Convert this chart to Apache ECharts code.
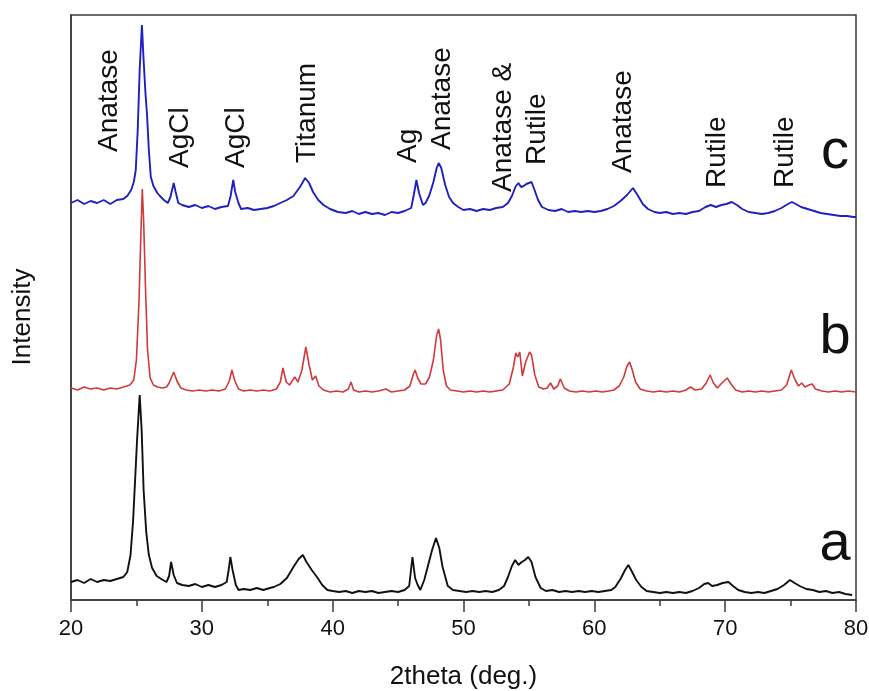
<!DOCTYPE html>
<html>
<head>
<meta charset="utf-8">
<script src="https://cdn.jsdelivr.net/npm/echarts@6/dist/echarts.min.js"></script>
<style>
html,body{margin:0;padding:0;background:#fff;}
#chart{width:869px;height:691px;}
</style>
</head>
<body>
<div id="chart"></div>
<script>
// x: 2theta (deg.), y: intensity (arb. units, stacked patterns)
const sampleC = [
[20.0,397],[20.5,400],[21.0,396],[21.5,399],[22.0,397],[22.5,400],[23.0,396],[23.5,400],[24.0,401],
[24.3,404],[24.6,410],[24.8,418],[24.95,430],[25.1,470],[25.25,530],[25.42,575],[25.55,540],[25.7,505],
[25.8,488],[25.95,450],[26.1,423],[26.3,414],[26.6,407],[26.8,404],[27.1,400],[27.4,397],[27.6,403],
[27.85,417],[28.0,408],[28.2,397],[28.5,395],[29.0,393],[29.5,395],[30.0,392],[30.5,394],[31.0,391],
[31.5,393],[32.0,394],[32.2,404],[32.4,420],[32.55,408],[32.8,397],[33.0,391],[33.5,392],[34.0,390],
[34.5,391],[35.0,392],[35.5,394],[36.0,397],[36.5,400],[37.0,404],[37.5,413],[37.9,422],[38.2,417],
[38.5,408],[38.9,400],[39.3,395],[39.8,391],[40.4,388],[41.0,387],[41.5,389],[42.0,386],[42.5,388],
[43.0,386],[43.5,387],[44.0,385],[44.5,388],[45.0,387],[45.5,389],[46.0,392],[46.2,405],[46.4,420],
[46.6,407],[46.9,395],[47.1,397],[47.4,405],[47.7,418],[47.95,432],[48.1,437],[48.3,432],[48.6,415],
[48.9,403],[49.2,397],[49.6,393],[50.0,390],[50.5,391],[51.0,389],[51.5,391],[52.0,390],[52.5,392],
[53.0,393],[53.4,397],[53.7,404],[54.0,414],[54.2,417],[54.4,413],[54.6,414],[54.8,416],[55.0,417],
[55.2,418],[55.4,411],[55.7,400],[56.0,393],[56.5,390],[57.0,389],[57.5,391],[58.0,388],[58.5,389],
[59.0,388],[59.5,389],[60.0,388],[60.5,389],[61.0,391],[61.5,394],[62.0,399],[62.5,405],[62.95,412],
[63.3,405],[63.7,396],[64.1,391],[64.6,388],[65.0,387],[65.5,388],[66.0,386],[66.5,387],[67.0,386],
[67.5,388],[68.0,389],[68.5,393],[68.9,395],[69.3,393],[69.7,395],[70.1,396],[70.5,398],[70.9,395],
[71.3,391],[71.8,388],[72.3,387],[72.8,386],[73.3,387],[73.8,389],[74.3,392],[74.8,396],[75.1,398],
[75.4,396],[75.8,393],[76.3,391],[76.8,389],[77.3,387],[77.8,386],[78.3,385],[78.8,384],[79.3,384],
[79.8,383],[80.0,383]
];
const sampleB = [
[20.0,212],[20.5,210],[21.0,213],[21.5,211],[22.0,212],[22.5,210],[23.0,212],[23.5,211],[24.0,213],
[24.5,215],[24.8,220],[25.0,240],[25.2,300],[25.35,370],[25.45,411],[25.55,380],[25.7,310],[25.85,250],
[26.05,222],[26.3,215],[26.6,213],[27.0,212],[27.3,213],[27.5,217],[27.85,228],[28.1,219],[28.4,212],
[28.8,210],[29.3,209],[29.8,210],[30.3,209],[30.8,210],[31.3,209],[31.8,211],[32.1,219],[32.3,230],
[32.5,220],[32.8,211],[33.2,209],[33.7,210],[34.2,209],[34.7,210],[35.2,209],[35.7,211],[36.0,218],
[36.2,232],[36.45,218],[36.7,215],[37.1,223],[37.35,218],[37.65,230],[37.95,253],[38.2,235],[38.45,220],
[38.7,224],[38.95,214],[39.3,210],[39.8,208],[40.3,209],[40.8,208],[41.2,211],[41.4,218],[41.6,210],
[42.0,208],[42.5,209],[43.0,208],[43.5,209],[44.05,211],[44.5,208],[45.0,209],[45.5,210],[45.9,214],
[46.15,225],[46.3,230],[46.5,222],[46.75,216],[47.1,216],[47.4,223],[47.7,240],[47.95,265],[48.1,271],
[48.25,260],[48.45,230],[48.7,214],[49.0,210],[49.5,209],[50.0,208],[50.5,209],[51.0,208],[51.5,209],
[52.0,208],[52.5,209],[53.0,210],[53.5,216],[53.8,232],[54.0,247],[54.15,243],[54.3,248],[54.5,224],
[54.75,238],[55.05,248],[55.2,245],[55.45,225],[55.75,213],[56.1,211],[56.4,212],[56.65,217],[56.9,211],
[57.2,214],[57.4,221],[57.7,212],[58.1,209],[58.6,208],[59.1,209],[59.6,208],[60.1,209],[60.6,208],
[61.1,209],[61.5,210],[61.9,214],[62.25,223],[62.5,234],[62.7,238],[62.9,230],[63.15,218],[63.5,211],
[64.0,209],[64.5,208],[65.0,209],[65.5,208],[66.0,209],[66.5,208],[67.0,210],[67.35,213],[67.7,210],
[68.2,211],[68.55,217],[68.85,225],[69.1,217],[69.4,212],[69.75,217],[70.15,222],[70.45,216],[70.8,210],
[71.3,208],[71.8,209],[72.3,208],[72.8,209],[73.3,208],[73.8,209],[74.3,210],[74.7,215],[75.05,230],
[75.35,220],[75.6,214],[75.85,217],[76.1,213],[76.4,215],[76.65,216],[76.9,211],[77.4,209],[77.9,208],
[78.4,209],[78.9,208],[79.4,209],[80.0,208]
];
const sampleA = [
[20.0,18],[20.5,20],[21.0,17],[21.5,21],[22.0,18],[22.5,20],[23.0,19],[23.5,21],[24.0,23],[24.3,28],
[24.55,45],[24.75,80],[24.9,120],[25.05,160],[25.25,205],[25.4,170],[25.55,110],[25.75,68],[25.95,45],
[26.2,32],[26.55,24],[26.9,21],[27.3,18],[27.5,24],[27.65,38],[27.85,25],[28.1,17],[28.5,15],[29.0,14],
[29.5,16],[30.0,13],[30.5,15],[31.0,13],[31.5,15],[31.9,18],[32.05,30],[32.18,43],[32.35,30],[32.6,15],
[32.8,10],[33.2,11],[33.7,10],[34.2,12],[34.7,10],[35.2,12],[35.5,13],[36.0,16],[36.5,22],[37.0,33],
[37.4,41],[37.72,45],[38.0,38],[38.4,30],[38.8,23],[39.2,15],[39.6,10],[40.0,9],[40.5,8],[41.0,9],
[41.5,7],[42.0,9],[42.5,8],[43.0,9],[43.5,7],[44.0,8],[44.5,9],[45.0,8],[45.5,10],[45.85,14],[46.1,43],
[46.3,22],[46.5,15],[46.7,10],[47.0,20],[47.3,35],[47.6,50],[47.9,62],[48.15,52],[48.4,33],[48.8,14],
[49.2,10],[49.7,9],[50.2,8],[50.7,9],[51.2,8],[51.7,9],[52.2,8],[52.7,10],[53.1,14],[53.4,23],[53.7,34],
[53.95,40],[54.2,35],[54.45,38],[54.7,40],[54.95,43],[55.2,38],[55.5,23],[55.9,12],[56.3,9],[56.8,10],
[57.3,8],[57.8,9],[58.3,8],[58.8,9],[59.3,8],[59.8,9],[60.3,8],[60.8,9],[61.3,10],[61.6,13],[62.0,21],
[62.35,30],[62.6,35],[62.85,29],[63.2,20],[63.6,13],[64.0,9],[64.5,8],[65.0,7],[65.5,8],[66.0,7],
[66.5,8],[67.0,7],[67.5,9],[68.0,12],[68.4,16],[68.7,17],[69.0,14],[69.4,15],[69.8,17],[70.25,18],
[70.6,14],[71.0,10],[71.5,8],[72.0,7],[72.5,8],[73.0,7],[73.5,9],[74.0,11],[74.5,15],[74.95,20],
[75.3,17],[75.7,14],[76.2,11],[76.7,10],[77.2,8],[77.7,9],[78.2,7],[78.7,8],[79.2,6],[79.7,5]
];
const peakLabels = ['Anatase','AgCl','AgCl','Titanum','Ag','Anatase','Anatase &','Rutile','Anatase','Rutile','Rutile'];
const peakLabelTheta = [22.89, 28.37, 32.63, 38.05, 45.80, 48.37, 53.06, 55.63, 62.23, 69.39, 74.61];
const peakLabelY = [448, 432, 432, 437, 437, 450, 408, 435, 427, 412, 412];
const sampleNames = ['a','b','c'];
const sampleNameTheta = [78.40, 78.40, 78.40];
const sampleNameY = [55, 262, 447];
const xTicks = [20, 30, 40, 50, 60, 70, 80];

const FONT = 'Arial, "Liberation Sans", sans-serif';
const TXT = '#111111';
const chart = echarts.init(document.getElementById('chart'), null, {renderer: 'canvas'});

const peakData = peakLabels.map((t, i) => [peakLabelTheta[i], peakLabelY[i], t]);
const nameData = sampleNames.map((t, i) => [sampleNameTheta[i], sampleNameY[i], t]);

chart.setOption({
  animation: false,
  backgroundColor: '#fff',
  grid: {left: 71, right: 13, top: 15, bottom: 91, containLabel: false, outerBoundsMode: 'none',
    show: true, borderColor: '#3a3a3a', borderWidth: 1.5, backgroundColor: 'transparent'},
  xAxis: {
    type: 'value', min: xTicks[0], max: xTicks[xTicks.length - 1], interval: 10,
    name: '2theta (deg.)', nameLocation: 'middle', nameGap: 64,
    nameTextStyle: {fontFamily: FONT, fontSize: 26, color: TXT},
    axisLine: {lineStyle: {color: '#3a3a3a', width: 1.5}},
    axisTick: {show: true, inside: false, length: 12, lineStyle: {color: '#3a3a3a', width: 1.5}},
    minorTick: {show: true, splitNumber: 2, length: 6, lineStyle: {color: '#3a3a3a', width: 1.5}},
    axisLabel: {fontFamily: FONT, fontSize: 22, color: TXT, margin: 18},
    splitLine: {show: false}
  },
  yAxis: {
    type: 'value', min: 0, max: 585,
    name: 'Intensity', nameLocation: 'middle', nameGap: 35, nameRotate: 90,
    nameTextStyle: {fontFamily: FONT, fontSize: 26, color: TXT, padding: [0, 19, 0, 0]},
    axisLine: {show: true, lineStyle: {color: '#3a3a3a', width: 1.5}},
    axisTick: {show: false}, axisLabel: {show: false}, splitLine: {show: false}
  },
  series: [
    {type: 'line', data: sampleA, showSymbol: false, symbol: 'none', lineStyle: {color: '#111111', width: 1.9}, silent: true},
    {type: 'line', data: sampleB, showSymbol: false, symbol: 'none', lineStyle: {color: '#d2383c', width: 1.6}, silent: true},
    {type: 'line', data: sampleC, showSymbol: false, symbol: 'none', lineStyle: {color: '#2020c0', width: 1.9}, silent: true},
    {type: 'scatter', data: peakData, symbolSize: 0, silent: true, itemStyle: {opacity: 1},
      label: {show: true, position: 'inside', rotate: 90, align: 'left', verticalAlign: 'middle',
        formatter: p => p.data[2], fontFamily: FONT, fontSize: 28, color: TXT, opacity: 1}},
    {type: 'scatter', data: nameData, symbolSize: 0, silent: true, itemStyle: {opacity: 1},
      label: {show: true, position: 'inside', align: 'center', verticalAlign: 'middle',
        formatter: p => p.data[2], fontFamily: FONT, fontSize: 56, color: TXT, opacity: 1}}
  ]
});
</script>
</body>
</html>
